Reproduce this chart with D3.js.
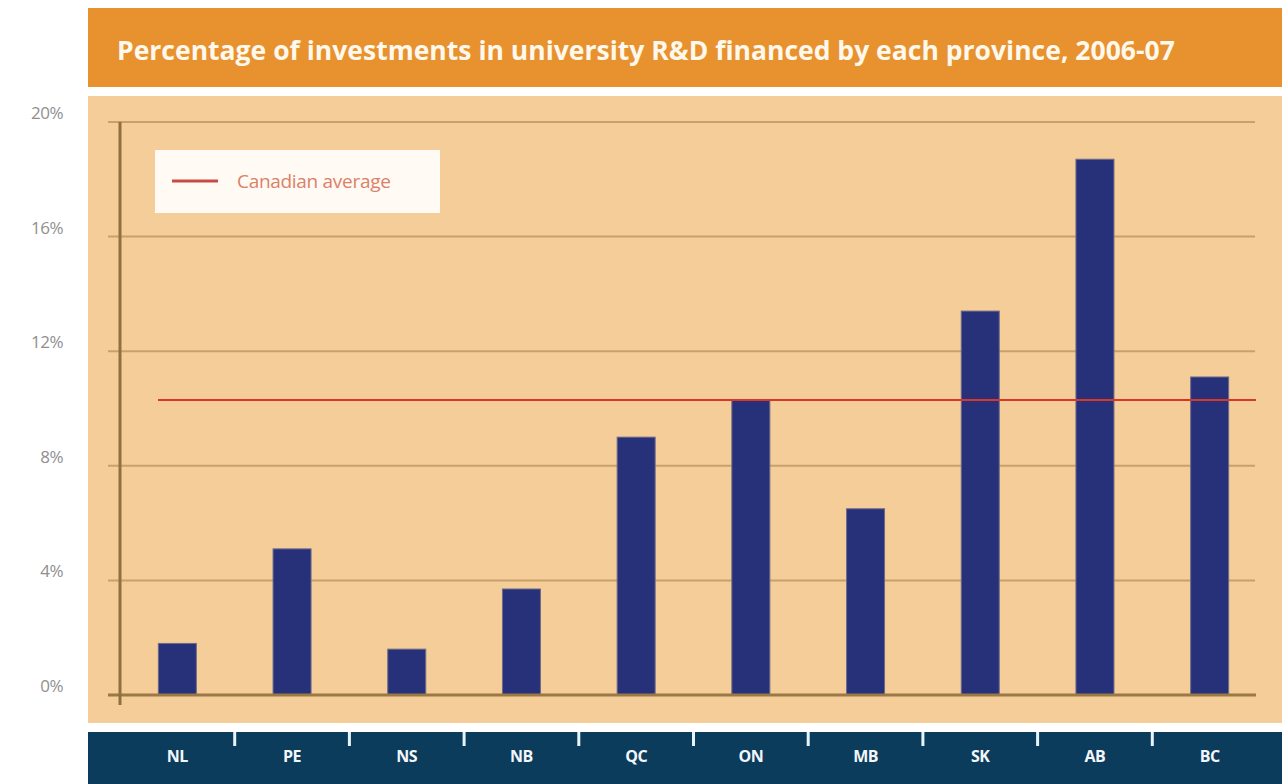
<!DOCTYPE html>
<html>
<head>
<meta charset="utf-8">
<script src="https://cdn.jsdelivr.net/npm/d3@7"></script>
<style>
  html, body { margin: 0; padding: 0; background: #ffffff; }
  svg { display: block; }
</style>
</head>
<body>
<div id="chart"></div>
<script>
// Data
const provinces = ['NL', 'PE', 'NS', 'NB', 'QC', 'ON', 'MB', 'SK', 'AB', 'BC'];
const shares = [1.8, 5.1, 1.6, 3.7, 9.0, 10.3, 6.5, 13.4, 18.7, 11.1];
const canadianAverage = 10.3;
const yTicks = [0, 4, 8, 12, 16, 20];
const chartTitle = 'Percentage of investments in university R&D financed by each province, 2006-07';
const legendLabel = 'Canadian average';

const W = 1282, H = 784;

const svg = d3.select('#chart')
    .append('svg')
    .attr('width', W)
    .attr('height', H);

// scales
const x = d3.scaleBand()
    .domain(provinces)
    .range([120, 1267])
    .padding(0);

const y = d3.scaleLinear()
    .domain([0, 20])
    .range([695, 122]);

const barW = 38;

// title bar
svg.append('rect')
    .attr('x', 88).attr('y', 8)
    .attr('width', W - 88).attr('height', 79)
    .attr('fill', '#e8922f');

const title = svg.append('text')
    .attr('x', 117).attr('y', 60)
    .attr('fill', '#fff8ec')
    .style('font-family', '"Open Sans", sans-serif')
    .style('font-weight', 'bold')
    .style('font-size', '22px')
    .text(chartTitle);
// fit title to the width seen in the picture
const tw = title.node().getComputedTextLength();
title.style('font-size', (22 * 1058 / tw).toFixed(2) + 'px');

// plot background
svg.append('rect')
    .attr('x', 88).attr('y', 96)
    .attr('width', W - 88).attr('height', 627)
    .attr('fill', '#f5cd98');

// gridlines
svg.append('g')
    .selectAll('line')
    .data(yTicks.filter(d => d > 0))
    .enter()
    .append('line')
    .attr('x1', 108).attr('x2', 1255)
    .attr('y1', d => y(d)).attr('y2', d => y(d))
    .attr('stroke', '#c9a06a')
    .attr('stroke-width', 2);

// y tick labels (sit a little above their gridlines)
svg.append('g')
    .selectAll('text')
    .data(yTicks)
    .enter()
    .append('text')
    .attr('x', 63)
    .attr('y', d => y(d) - 3)
    .attr('text-anchor', 'end')
    .attr('fill', '#8f8f8f')
    .style('font-family', '"Open Sans", sans-serif')
    .style('font-size', '17px')
    .style('letter-spacing', '-0.5px')
    .text(d => d + '%');

// bars
svg.append('g')
    .selectAll('rect')
    .data(provinces)
    .enter()
    .append('rect')
    .attr('x', (d) => x(d) + x.bandwidth() / 2 - barW / 2)
    .attr('y', (d, i) => y(shares[i]))
    .attr('width', barW)
    .attr('height', (d, i) => y(0) - y(shares[i]))
    .attr('fill', '#27317a')
    .attr('stroke', '#6d6a8c')
    .attr('stroke-width', 1);

// axes lines
svg.append('line')
    .attr('x1', 108).attr('x2', 1256)
    .attr('y1', y(0)).attr('y2', y(0))
    .attr('stroke', '#9a7945')
    .attr('stroke-width', 3);

svg.append('line')
    .attr('x1', 120).attr('x2', 120)
    .attr('y1', y(20)).attr('y2', y(0) + 10)
    .attr('stroke', '#8f7040')
    .attr('stroke-width', 3);

// Canadian average line
svg.append('line')
    .attr('x1', 158).attr('x2', 1256)
    .attr('y1', y(canadianAverage)).attr('y2', y(canadianAverage))
    .attr('stroke', '#d9372a')
    .attr('stroke-width', 2);

// legend
svg.append('rect')
    .attr('x', 155).attr('y', 150)
    .attr('width', 285).attr('height', 63)
    .attr('fill', '#fffaf3');

svg.append('line')
    .attr('x1', 172).attr('x2', 218)
    .attr('y1', 181).attr('y2', 181)
    .attr('stroke', '#c94a44')
    .attr('stroke-width', 3);

svg.append('text')
    .attr('x', 237).attr('y', 188)
    .attr('fill', '#dd8068')
    .style('font-family', '"Open Sans", sans-serif')
    .style('font-size', '19px')
    .style('letter-spacing', '-0.3px')
    .text(legendLabel);

// bottom category band
svg.append('rect')
    .attr('x', 88).attr('y', 732)
    .attr('width', W - 88).attr('height', H - 732)
    .attr('fill', '#0b3c5b');

svg.append('g')
    .selectAll('line')
    .data(provinces.slice(1))
    .enter()
    .append('line')
    .attr('x1', d => x(d)).attr('x2', d => x(d))
    .attr('y1', 732).attr('y2', 746)
    .attr('stroke', '#e8f4fb')
    .attr('stroke-width', 3);

svg.append('g')
    .selectAll('text')
    .data(provinces)
    .enter()
    .append('text')
    .attr('x', d => x(d) + x.bandwidth() / 2)
    .attr('y', 762)
    .attr('text-anchor', 'middle')
    .attr('fill', '#f2f6fa')
    .style('font-family', '"Open Sans", sans-serif')
    .style('font-weight', 'bold')
    .style('font-size', '16px')
    .style('letter-spacing', '-0.5px')
    .text(d => d);
</script>
</body>
</html>
